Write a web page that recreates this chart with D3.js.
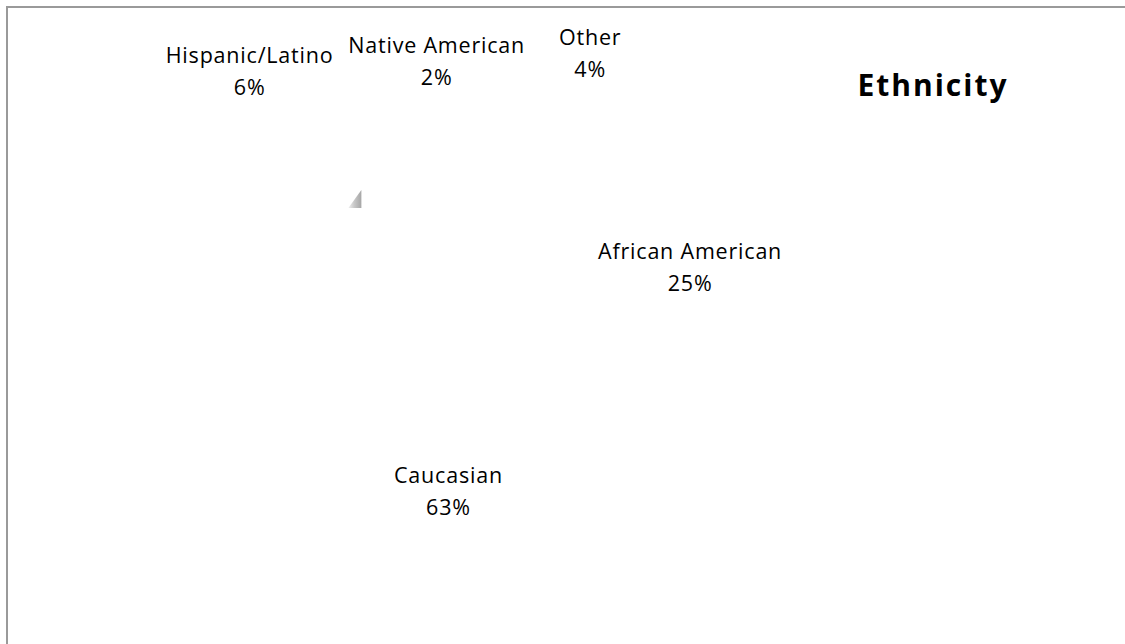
<!DOCTYPE html>
<html>
<head>
<meta charset="utf-8">
<script src="https://cdn.jsdelivr.net/npm/d3@7"></script>
<style>
  html, body { margin: 0; padding: 0; background: #fff; }
  svg { display: block; }
  text { font-family: "Open Sans", Lato, sans-serif; fill: #000; }
</style>
</head>
<body>
<svg id="chart" width="1125" height="644"></svg>
<script>
// Ethnicity breakdown (percent of total)
const categories = ["African American", "Caucasian", "Hispanic/Latino", "Native American", "Other"];
const values = [25, 63, 6, 2, 4];
const title = "Ethnicity";

// Layout
const W = 1125, H = 644;
const center = { x: 455, y: 330 };
const radius = 190;
const labelRadius = 150;
// per-slice nudges of the data labels from their slice centroid
const labelNudge = [[129, 44], [53, 24], [-125, -131], [28, -125], [154, -127]];

const svg = d3.select("#chart");

// chart area border (top and left edges visible)
svg.append("path")
  .attr("d", `M7,${H} L7,7 L${W},7`)
  .attr("fill", "none")
  .attr("stroke", "#9a9a9a")
  .attr("stroke-width", 2);

const data = categories.map((c, i) => ({ category: c, value: values[i] }));
const pie = d3.pie().value(d => d.value).sort(null);
const arcs = pie(data);
const arc = d3.arc().innerRadius(0).outerRadius(radius);
const labelArc = d3.arc().innerRadius(labelRadius).outerRadius(labelRadius);

const g = svg.append("g").attr("transform", `translate(${center.x},${center.y})`);

// slices are filled white on a white background
g.selectAll("path.slice")
  .data(arcs)
  .join("path")
  .attr("class", "slice")
  .attr("d", arc)
  .attr("fill", "#ffffff")
  .attr("stroke", "#ffffff")
  .attr("stroke-width", 1);

// small shaded sliver near the edge of the Hispanic/Latino slice
const defs = svg.append("defs");
const grad = defs.append("linearGradient").attr("id", "sliver").attr("x1", "0").attr("x2", "1").attr("y1", "0").attr("y2", "0");
grad.append("stop").attr("offset", "0%").attr("stop-color", "#f0f0f0");
grad.append("stop").attr("offset", "45%").attr("stop-color", "#c8c8c8");
grad.append("stop").attr("offset", "100%").attr("stop-color", "#a6a6a6");
const hisp = arcs[2];
const edge = [Math.sin(hisp.startAngle), -Math.cos(hisp.startAngle)];
const tip = [edge[0] * radius * 0.72, edge[1] * radius * 1.01];
g.append("path")
  .attr("d", `M${tip[0]},${tip[1]} L${tip[0]},${tip[1] + 18} L${tip[0] - 13},${tip[1] + 18} Z`)
  .attr("fill", "url(#sliver)");

// data labels: category name + percentage
const labels = g.selectAll("text.label")
  .data(arcs)
  .join("text")
  .attr("class", "label")
  .attr("text-anchor", "middle")
  .attr("font-size", 21.5)
  .attr("font-weight", 500)
  .attr("letter-spacing", 0.8)
  .attr("transform", (d, i) => {
    const c = labelArc.centroid(d);
    return `translate(${c[0] + labelNudge[i][0]},${c[1] + labelNudge[i][1]})`;
  });
labels.append("tspan").attr("x", 0).attr("y", -9).text(d => d.data.category);
labels.append("tspan").attr("x", 0).attr("y", 23).text(d => d.data.value + "%");

// title
svg.append("text")
  .attr("x", 933)
  .attr("y", 96)
  .attr("text-anchor", "middle")
  .attr("font-size", 30)
  .attr("font-weight", "bold")
  .attr("letter-spacing", 2)
  .text(title);
</script>
</body>
</html>
